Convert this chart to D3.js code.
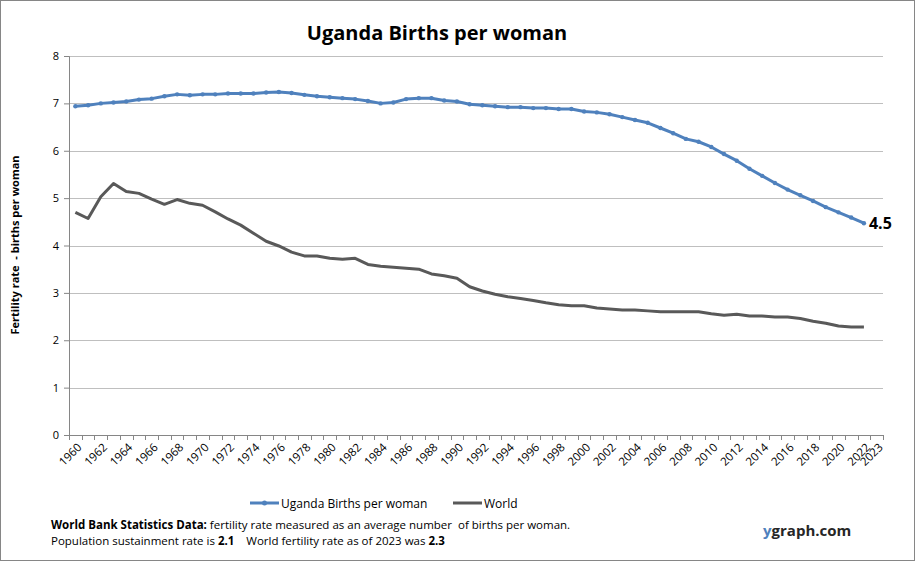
<!DOCTYPE html>
<html>
<head>
<meta charset="utf-8">
<script src="https://cdn.jsdelivr.net/npm/d3@7"></script>
<style>
    body { margin: 0; background: #fff; }
    svg { font-family: "Open Sans", "Lato", sans-serif; }
    text { white-space: pre; }
</style>
</head>
<body>
<svg id="chart" width="915" height="561"></svg>
<script>
const years = d3.range(1960, 2024);
const yTicks = [0, 1, 2, 3, 4, 5, 6, 7, 8];
const xLabels = d3.range(1960, 2023, 2).concat([2023]);

// Uganda births per woman, 1960-2022 (2023 not yet reported)
const uganda = [
    6.94, 6.96, 7.00, 7.02, 7.04, 7.08, 7.10, 7.15, 7.19, 7.17,
    7.19, 7.19, 7.21, 7.21, 7.21, 7.23, 7.24, 7.22, 7.18, 7.15,
    7.13, 7.11, 7.09, 7.05, 7.00, 7.02, 7.09, 7.11, 7.11, 7.06,
    7.04, 6.98, 6.96, 6.94, 6.92, 6.92, 6.90, 6.90, 6.88, 6.88,
    6.83, 6.81, 6.77, 6.71, 6.65, 6.59, 6.48, 6.37, 6.25, 6.19,
    6.08, 5.93, 5.79, 5.62, 5.47, 5.32, 5.18, 5.06, 4.94, 4.81,
    4.70, 4.59, 4.47, null
];

// World births per woman
const world = [
    4.70, 4.57, 5.03, 5.31, 5.14, 5.10, 4.98, 4.87, 4.97, 4.89,
    4.85, 4.71, 4.56, 4.43, 4.26, 4.09, 3.99, 3.86, 3.78, 3.78,
    3.73, 3.71, 3.73, 3.60, 3.56, 3.54, 3.52, 3.50, 3.40, 3.36,
    3.31, 3.13, 3.04, 2.97, 2.92, 2.88, 2.84, 2.79, 2.75, 2.73,
    2.73, 2.68, 2.66, 2.64, 2.64, 2.62, 2.60, 2.60, 2.60, 2.60,
    2.56, 2.53, 2.55, 2.51, 2.51, 2.49, 2.49, 2.46, 2.40, 2.36,
    2.30, 2.28, 2.28, null
];

const blue = '#4f81bd';
const grey = '#595959';

const svg = d3.select('#chart');
const margin = { top: 56, left: 69, right: 32, bottom: 126 };
const width = 915 - margin.left - margin.right;
const height = 561 - margin.top - margin.bottom;

// outer frame
svg.append('rect')
    .attr('x', 0.5).attr('y', 0.5)
    .attr('width', 914).attr('height', 560)
    .attr('fill', '#fff')
    .attr('stroke', '#868686');

svg.append('text')
    .attr('x', 437).attr('y', 40)
    .attr('text-anchor', 'middle')
    .attr('font-size', 20).attr('font-weight', 'bold')
    .attr('fill', '#000')
    .text('Uganda Births per woman');

const g = svg.append('g').attr('transform', `translate(${margin.left},${margin.top})`);

const x = d3.scaleBand().domain(years).range([0, width]);
const y = d3.scaleLinear().domain([0, 8]).range([height, 0]);

// gridlines
g.append('g')
    .selectAll('line')
    .data(yTicks.filter(d => d > 0))
    .join('line')
    .attr('x1', 0).attr('x2', width)
    .attr('y1', d => Math.round(y(d)) + 0.5).attr('y2', d => Math.round(y(d)) + 0.5)
    .attr('stroke', '#bfbfbf');

// y axis
const yAxis = g.append('g')
    .call(d3.axisLeft(y).tickValues(yTicks).tickSize(5).tickPadding(5));
yAxis.selectAll('line, path').attr('stroke', '#868686');
yAxis.selectAll('text').attr('font-size', 11).attr('fill', '#000')
    .attr('font-family', '"Open Sans", sans-serif');

// x axis: ticks at category boundaries
const xAxisG = g.append('g').attr('transform', `translate(0,${height})`);
xAxisG.append('line')
    .attr('x1', 0).attr('x2', width)
    .attr('y1', 0.5).attr('y2', 0.5)
    .attr('stroke', '#868686');
xAxisG.selectAll('.tk')
    .data(years.concat([null]))
    .join('line')
    .attr('class', 'tk')
    .attr('x1', (d, i) => Math.round(i * x.step()) + 0.5)
    .attr('x2', (d, i) => Math.round(i * x.step()) + 0.5)
    .attr('y1', 0).attr('y2', 5)
    .attr('stroke', '#868686');
xAxisG.selectAll('.lbl')
    .data(xLabels)
    .join('text')
    .attr('class', 'lbl')
    .attr('text-anchor', 'end')
    .attr('font-size', 11.5)
    .attr('fill', '#000')
    .attr('transform', d => `translate(${x(d) + x.bandwidth() / 2 + 7},${13}) rotate(-45)`)
    .text(d => d);

const line = d3.line()
    .defined(d => d != null)
    .x((d, i) => x(years[i]) + x.bandwidth() / 2)
    .y(d => y(d));

g.append('path')
    .datum(world)
    .attr('fill', 'none')
    .attr('stroke', grey)
    .attr('stroke-width', 3)
    .attr('stroke-linejoin', 'round')
    .attr('d', line);

g.append('path')
    .datum(uganda)
    .attr('fill', 'none')
    .attr('stroke', blue)
    .attr('stroke-width', 3)
    .attr('stroke-linejoin', 'round')
    .attr('d', line);

g.append('g')
    .selectAll('circle')
    .data(uganda.map((v, i) => ({ v, yr: years[i] })).filter(d => d.v != null))
    .join('circle')
    .attr('cx', d => x(d.yr) + x.bandwidth() / 2)
    .attr('cy', d => y(d.v))
    .attr('r', 2.2)
    .attr('fill', blue);

// end label
const last = uganda.filter(d => d != null).length - 1;
g.append('text')
    .attr('x', x(years[last]) + x.bandwidth() / 2 + 5)
    .attr('y', y(uganda[last]) + 6)
    .attr('font-size', 16).attr('font-weight', 'bold')
    .attr('fill', '#000')
    .text(d3.format('.1f')(uganda[last]));

// y axis title
svg.append('text')
    .attr('transform', 'translate(19,245) rotate(-90)')
    .attr('text-anchor', 'middle')
    .attr('font-size', 11).attr('font-weight', 'bold')
    .attr('fill', '#000')
    .text('Fertility rate  - births per woman');

// legend
const legend = [
    { name: 'Uganda Births per woman', color: blue, marker: true, x: 250 },
    { name: 'World', color: grey, marker: false, x: 453 }
];
const lg = svg.append('g').selectAll('g').data(legend).join('g')
    .attr('transform', d => `translate(${d.x},503)`);
lg.append('line')
    .attr('x1', 0).attr('x2', 29)
    .attr('stroke', d => d.color).attr('stroke-width', 3);
lg.filter(d => d.marker).append('circle')
    .attr('cx', 14.5).attr('r', 2.5).attr('fill', d => d.color);
lg.append('text')
    .attr('x', 31).attr('y', 4.5)
    .attr('font-size', 12).attr('fill', '#000')
    .text(d => d.name);

// footer notes
const note1 = svg.append('text').attr('x', 51).attr('y', 529).attr('font-size', 11.5).attr('fill', '#000');
note1.append('tspan').attr('font-weight', 'bold').text('World Bank Statistics Data: ');
note1.append('tspan').text('fertility rate measured as an average number  of births per woman.');

const note2 = svg.append('text').attr('x', 51).attr('y', 545).attr('font-size', 11.5).attr('fill', '#000');
note2.append('tspan').text('Population sustainment rate is ');
note2.append('tspan').attr('font-weight', 'bold').text('2.1');
note2.append('tspan').text('    World fertility rate as of 2023 was ');
note2.append('tspan').attr('font-weight', 'bold').text('2.3');

const brand = svg.append('text').attr('x', 763).attr('y', 536)
    .attr('font-size', 15).attr('font-weight', 'bold');
brand.append('tspan').attr('fill', '#4f81bd').text('y');
brand.append('tspan').attr('fill', '#262626').text('graph.com');
</script>
</body>
</html>
